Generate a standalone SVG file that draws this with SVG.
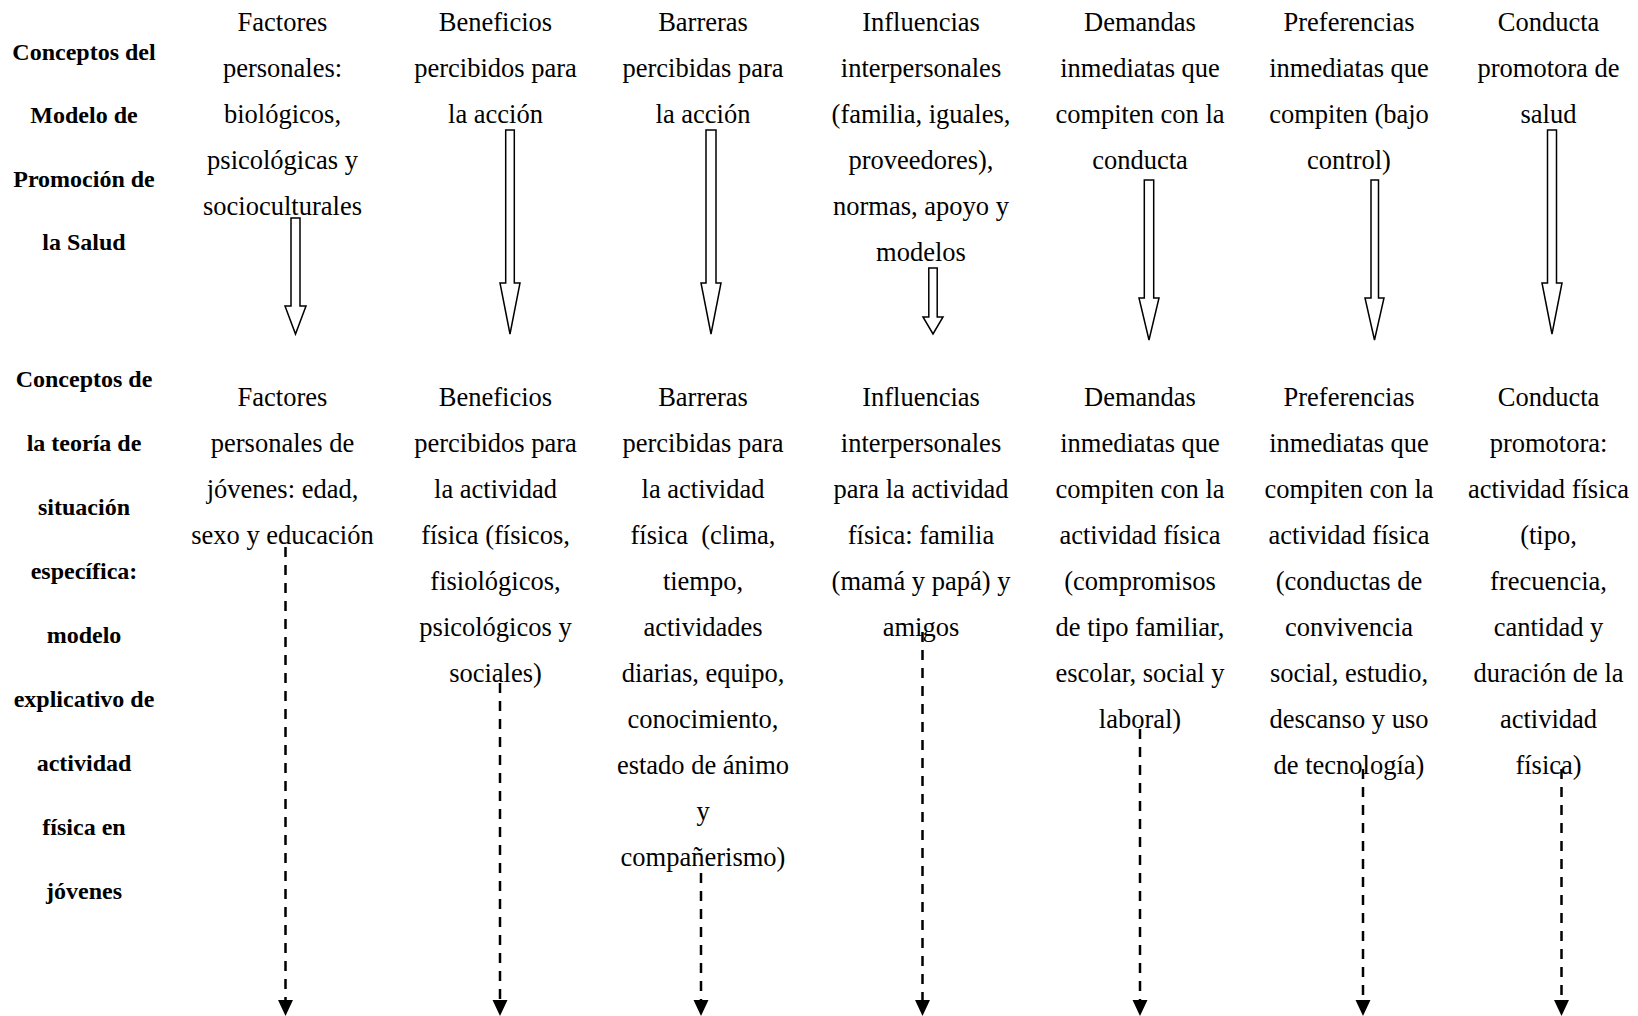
<svg xmlns="http://www.w3.org/2000/svg" width="1638" height="1016" viewBox="0 0 1638 1016">
<style>
.t{font-family:"Liberation Serif","Times New Roman",serif;font-size:26.5px;fill:#000;text-anchor:middle}
.b{font-family:"Liberation Serif","Times New Roman",serif;font-size:24px;font-weight:bold;fill:#000;text-anchor:middle}
.hol{fill:#fff;stroke:#000;stroke-width:1.5;stroke-linejoin:miter}
.dash{fill:none;stroke:#000;stroke-width:2.5;stroke-dasharray:10 8}
</style>
<defs>
<marker id="tri" markerUnits="userSpaceOnUse" markerWidth="16" markerHeight="16" viewBox="0 0 15 14" refX="0" refY="7" orient="auto">
<path d="M0,0 L15,7 L0,14 Z" fill="#000"/>
</marker>
</defs>
<rect width="1638" height="1016" fill="#fff"/>

<g id="label-mps">
<text class="b" x="84" y="59.7">Conceptos del</text>
<text class="b" x="84" y="123">Modelo de</text>
<text class="b" x="84" y="186.5">Promoción de</text>
<text class="b" x="84" y="250">la Salud</text>
</g>

<g id="label-tse">
<text class="b" x="84" y="387">Conceptos de</text>
<text class="b" x="84" y="451">la teoría de</text>
<text class="b" x="84" y="515">situación</text>
<text class="b" x="84" y="579">específica:</text>
<text class="b" x="84" y="643">modelo</text>
<text class="b" x="84" y="707">explicativo de</text>
<text class="b" x="84" y="771">actividad</text>
<text class="b" x="84" y="835">física en</text>
<text class="b" x="84" y="899">jóvenes</text>
</g>

<g id="top-factores">
<text class="t" x="282.5" y="30.7">Factores</text>
<text class="t" x="282.5" y="76.7">personales:</text>
<text class="t" x="282.5" y="122.7">biológicos,</text>
<text class="t" x="282.5" y="168.7">psicológicas y</text>
<text class="t" x="282.5" y="214.7">socioculturales</text>
</g>
<g id="top-beneficios">
<text class="t" x="495.5" y="30.7">Beneficios</text>
<text class="t" x="495.5" y="76.7">percibidos para</text>
<text class="t" x="495.5" y="122.7">la acción</text>
</g>
<g id="top-barreras">
<text class="t" x="703" y="30.7">Barreras</text>
<text class="t" x="703" y="76.7">percibidas para</text>
<text class="t" x="703" y="122.7">la acción</text>
</g>
<g id="top-influencias">
<text class="t" x="921" y="30.7">Influencias</text>
<text class="t" x="921" y="76.7">interpersonales</text>
<text class="t" x="921" y="122.7">(familia, iguales,</text>
<text class="t" x="921" y="168.7">proveedores),</text>
<text class="t" x="921" y="214.7">normas, apoyo y</text>
<text class="t" x="921" y="260.7">modelos</text>
</g>
<g id="top-demandas">
<text class="t" x="1140" y="30.7">Demandas</text>
<text class="t" x="1140" y="76.7">inmediatas que</text>
<text class="t" x="1140" y="122.7">compiten con la</text>
<text class="t" x="1140" y="168.7">conducta</text>
</g>
<g id="top-preferencias">
<text class="t" x="1349" y="30.7">Preferencias</text>
<text class="t" x="1349" y="76.7">inmediatas que</text>
<text class="t" x="1349" y="122.7">compiten (bajo</text>
<text class="t" x="1349" y="168.7">control)</text>
</g>
<g id="top-conducta">
<text class="t" x="1548.5" y="30.7">Conducta</text>
<text class="t" x="1548.5" y="76.7">promotora de</text>
<text class="t" x="1548.5" y="122.7">salud</text>
</g>

<g id="bot-factores">
<text class="t" x="282.5" y="405.8">Factores</text>
<text class="t" x="282.5" y="451.8">personales de</text>
<text class="t" x="282.5" y="497.8">jóvenes: edad,</text>
<text class="t" x="282.5" y="543.8">sexo y educación</text>
</g>
<g id="bot-beneficios">
<text class="t" x="495.5" y="405.8">Beneficios</text>
<text class="t" x="495.5" y="451.8">percibidos para</text>
<text class="t" x="495.5" y="497.8">la actividad</text>
<text class="t" x="495.5" y="543.8">física (físicos,</text>
<text class="t" x="495.5" y="589.8">fisiológicos,</text>
<text class="t" x="495.5" y="635.8">psicológicos y</text>
<text class="t" x="495.5" y="681.8">sociales)</text>
</g>
<g id="bot-barreras">
<text class="t" x="703" y="405.8">Barreras</text>
<text class="t" x="703" y="451.8">percibidas para</text>
<text class="t" x="703" y="497.8">la actividad</text>
<text class="t" x="703" y="543.8">física &#160;(clima,</text>
<text class="t" x="703" y="589.8">tiempo,</text>
<text class="t" x="703" y="635.8">actividades</text>
<text class="t" x="703" y="681.8">diarias, equipo,</text>
<text class="t" x="703" y="727.8">conocimiento,</text>
<text class="t" x="703" y="773.8">estado de ánimo</text>
<text class="t" x="703" y="819.8">y</text>
<text class="t" x="703" y="865.8">compañerismo)</text>
</g>
<g id="bot-influencias">
<text class="t" x="921" y="405.8">Influencias</text>
<text class="t" x="921" y="451.8">interpersonales</text>
<text class="t" x="921" y="497.8">para la actividad</text>
<text class="t" x="921" y="543.8">física: familia</text>
<text class="t" x="921" y="589.8">(mamá y papá) y</text>
<text class="t" x="921" y="635.8">amigos</text>
</g>
<g id="bot-demandas">
<text class="t" x="1140" y="405.8">Demandas</text>
<text class="t" x="1140" y="451.8">inmediatas que</text>
<text class="t" x="1140" y="497.8">compiten con la</text>
<text class="t" x="1140" y="543.8">actividad física</text>
<text class="t" x="1140" y="589.8">(compromisos</text>
<text class="t" x="1140" y="635.8">de tipo familiar,</text>
<text class="t" x="1140" y="681.8">escolar, social y</text>
<text class="t" x="1140" y="727.8">laboral)</text>
</g>
<g id="bot-preferencias">
<text class="t" x="1349" y="405.8">Preferencias</text>
<text class="t" x="1349" y="451.8">inmediatas que</text>
<text class="t" x="1349" y="497.8">compiten con la</text>
<text class="t" x="1349" y="543.8">actividad física</text>
<text class="t" x="1349" y="589.8">(conductas de</text>
<text class="t" x="1349" y="635.8">convivencia</text>
<text class="t" x="1349" y="681.8">social, estudio,</text>
<text class="t" x="1349" y="727.8">descanso y uso</text>
<text class="t" x="1349" y="773.8">de tecnología)</text>
</g>
<g id="bot-conducta">
<text class="t" x="1548.5" y="405.8">Conducta</text>
<text class="t" x="1548.5" y="451.8">promotora:</text>
<text class="t" x="1548.5" y="497.8">actividad física</text>
<text class="t" x="1548.5" y="543.8">(tipo,</text>
<text class="t" x="1548.5" y="589.8">frecuencia,</text>
<text class="t" x="1548.5" y="635.8">cantidad y</text>
<text class="t" x="1548.5" y="681.8">duración de la</text>
<text class="t" x="1548.5" y="727.8">actividad</text>
<text class="t" x="1548.5" y="773.8">física)</text>
</g>

<g id="connectors">
<path class="hol" d="M291,218 L300,218 L300,306 L306,306 L295.5,334 L285,306 L291,306 Z"/>
<path class="hol" d="M505.7,130 L514.3,130 L514.3,283 L520,283 L510,334 L500,283 L505.7,283 Z"/>
<path class="hol" d="M706,130 L716,130 L716,283 L721,283 L711,334 L701,283 L706,283 Z"/>
<path class="hol" d="M928.8,268 L937.2,268 L937.2,317 L943,317 L933,334 L923,317 L928.8,317 Z"/>
<path class="hol" d="M1144.3,180 L1153.7,180 L1153.7,298 L1159,298 L1149,340 L1139,298 L1144.3,298 Z"/>
<path class="hol" d="M1371,180 L1378.5,180 L1378.5,298 L1384,298 L1374.5,340 L1365,298 L1371,298 Z"/>
<path class="hol" d="M1547.5,130 L1556.5,130 L1556.5,283 L1562,283 L1552,334 L1542,283 L1547.5,283 Z"/>

<line class="dash" x1="285.5" y1="547" x2="285.5" y2="1000" marker-end="url(#tri)"/>
<line class="dash" x1="500" y1="683" x2="500" y2="1000" marker-end="url(#tri)"/>
<line class="dash" x1="701" y1="873" x2="701" y2="1000" marker-end="url(#tri)"/>
<line class="dash" x1="922.5" y1="632" x2="922.5" y2="1000" marker-end="url(#tri)"/>
<line class="dash" x1="1140" y1="729" x2="1140" y2="1000" marker-end="url(#tri)"/>
<line class="dash" x1="1363" y1="769" x2="1363" y2="1000" marker-end="url(#tri)"/>
<line class="dash" x1="1561.5" y1="769" x2="1561.5" y2="1000" marker-end="url(#tri)"/>
</g>
</svg>
